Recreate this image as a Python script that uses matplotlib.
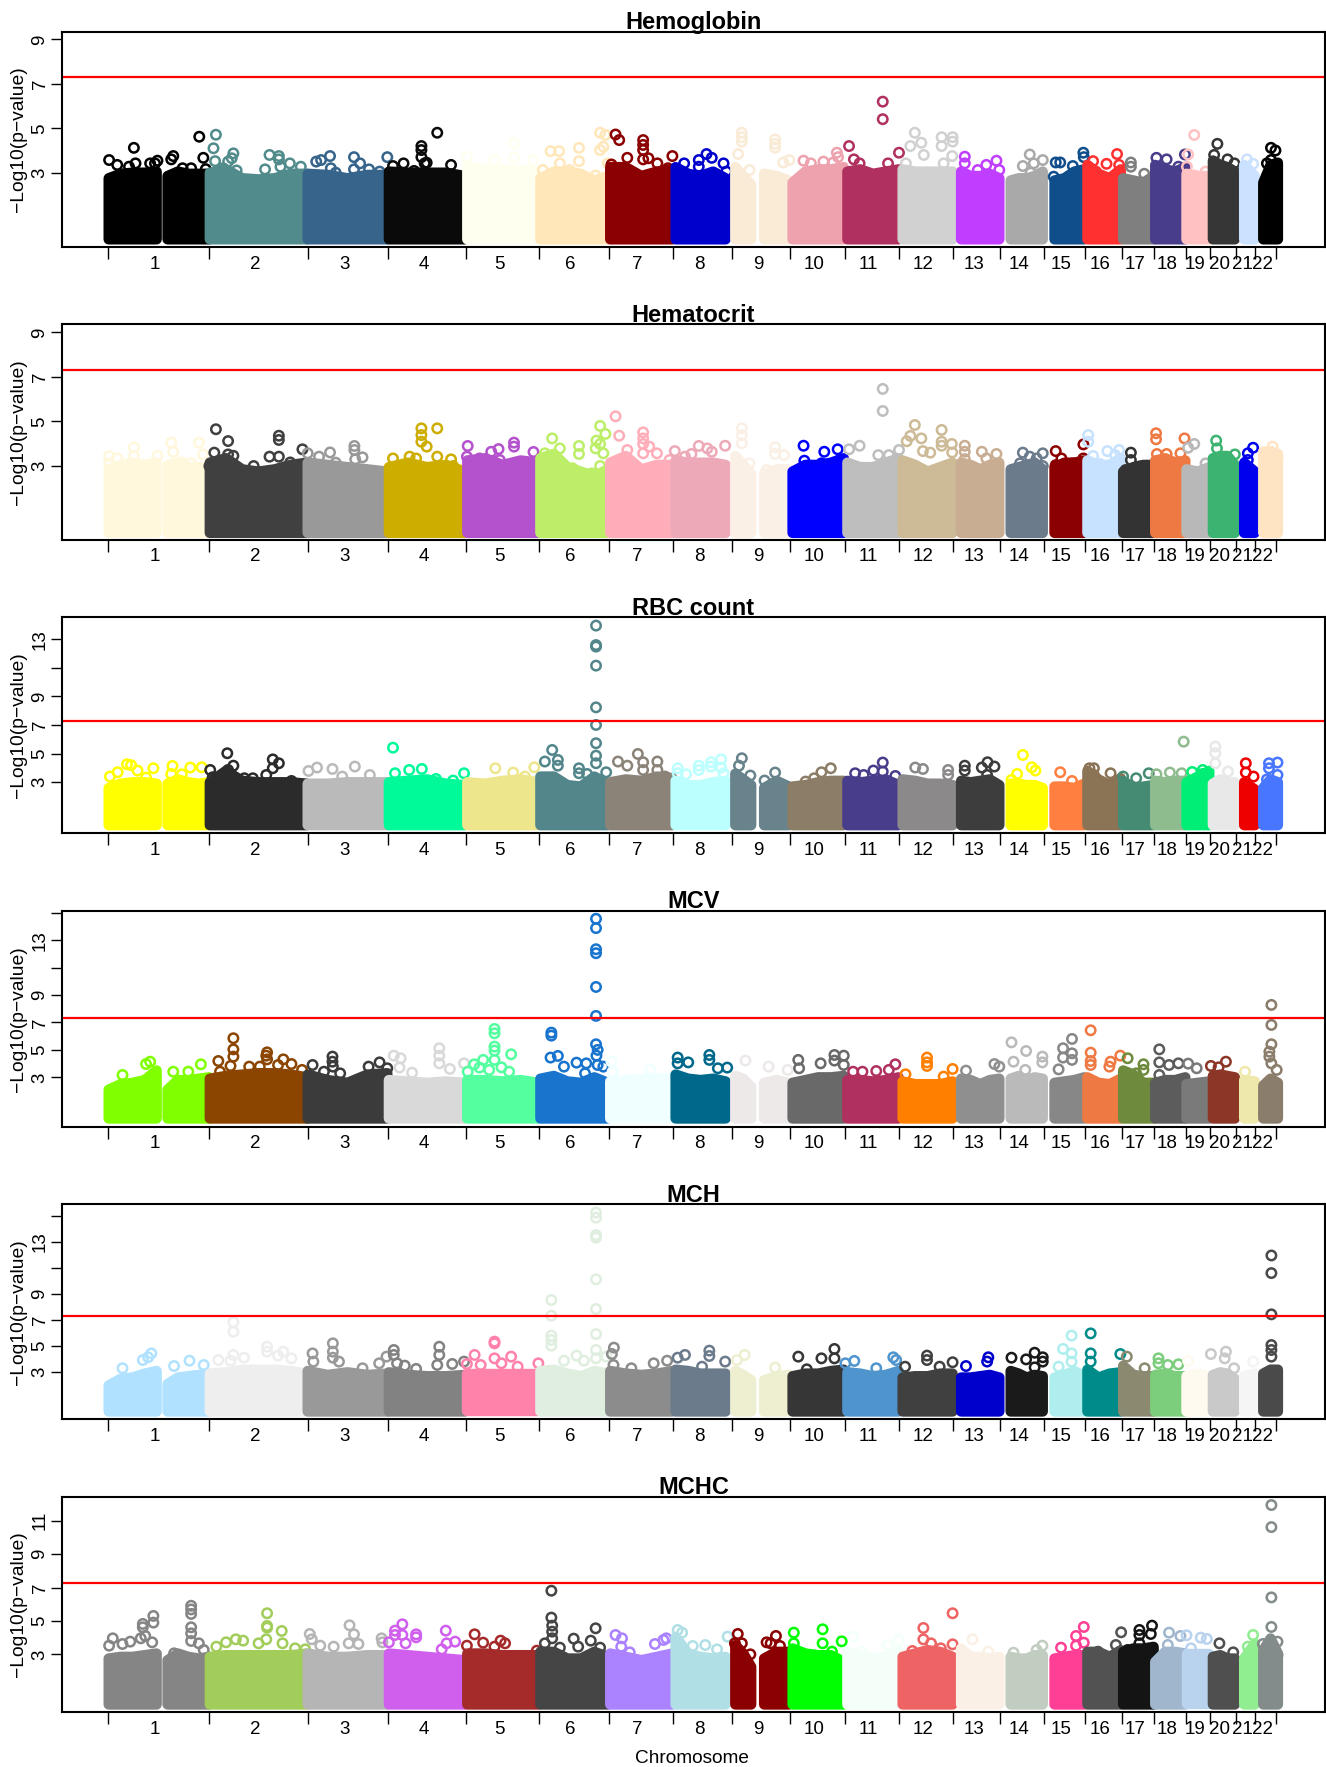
import numpy as np
import matplotlib
matplotlib.use('Agg')
import matplotlib.pyplot as plt

plt.rcParams['font.family'] = ['Liberation Sans', 'DejaVu Sans']

# ---------------------------------------------------------
# GENOME LAYOUT (Mb)
# ---------------------------------------------------------
CHR_LENGTHS = [249, 243, 198, 191, 181, 171, 159, 146, 141, 135, 135,
               133, 115, 107, 102, 90, 81, 78, 59, 63, 48, 51]
CHR_LABELS = [str(i) for i in range(1, 23)]

# chr1 and chr9 have a hole round the centromere, so 24 solid blocks
BLOCK_CHR = [0, 0, 1, 2, 3, 4, 5, 6, 7, 8, 8, 9, 10, 11, 12, 13, 14, 15, 16, 17, 18, 19, 20, 21]
BLOCK_START = [2, 147, 251, 492, 692, 885, 1065, 1237, 1398, 1545, 1616, 1686, 1821, 1957,
               2101, 2223, 2331, 2412, 2500, 2579, 2656, 2721, 2798, 2845]
BLOCK_END = [120, 249, 490, 688, 879, 1060, 1231, 1390, 1521, 1584, 1677, 1812, 1947, 2080,
             2195, 2302, 2404, 2494, 2575, 2653, 2712, 2775, 2824, 2881]

# ---------------------------------------------------------
# HEMOGLOBIN
# ---------------------------------------------------------
HB_COLORS = ['#000000', '#528B8B', '#36648B', '#0A0A0A', '#FFFFF0', '#FFE7BA', '#8B0000', '#0000CD',
             '#FAEBD7', '#EEA2AD', '#B03060', '#D1D1D1', '#BF3EFF', '#A9A9A9', '#104E8B', '#FF3030',
             '#7F7F7F', '#483D8B', '#FFC1C1', '#363636', '#CAE1FF', '#000000']
HB_TOPS = [[2.75, 2.95, 3.0, 3.0, 3.05], [2.85, 3.05, 2.95, 2.95, 2.95], [3.0, 3.15, 2.75, 2.7, 2.75, 2.95, 2.95],
           [2.95, 2.9, 2.75, 2.9, 2.9], [3.05, 3.0, 3.0, 3.0, 2.85], [3.25, 3.15, 3.15, 3.15, 3.05],
           [2.75, 3.05, 3.05, 2.95, 2.65, 2.85], [3.25, 3.25, 2.85, 3.05, 3.15], [3.25, 2.95, 2.85, 3.05, 2.75],
           [3.25, 2.85, 2.45], [2.95, 2.85, 2.65], [2.55, 3.05, 3.15, 3.15, 3.25], [3.05, 3.15, 2.95, 3.05, 3.15],
           [3.15, 3.05, 3.05, 3.05, 3.05], [3.05, 2.85, 2.85, 2.95, 2.75], [2.65, 2.75, 2.75, 2.85, 3.05],
           [2.65, 2.75, 3.05, 3.15], [3.35, 2.95, 2.75, 3.15], [2.75, 2.65, 2.55, 2.85], [3.35, 3.15, 3.05, 3.25],
           [2.95, 2.85, 2.85], [3.55, 3.35, 3.25, 3.05], [3.35, 2.85], [2.55, 3.35, 3.45]]
HB_HITS = [(3, 3.57), (23, 3.35), (64, 4.12), (68, 3.42), (52, 3.27), (104, 3.42), (122, 3.54), (116, 3.42),
           (161, 3.75), (156, 3.6), (184, 3.2), (205, 3.2), (225, 4.62), (235, 3.67), (241, 3.16),
           (266, 4.71), (260, 4.1), (264, 3.52), (309, 3.87), (296, 3.5), (305, 3.65), (284, 3.2), (317, 3.1),
           (398, 3.8), (421, 3.75), (421, 3.6), (387, 3.15), (448, 3.42), (425, 3.27), (475, 3.27),
           (513, 3.5), (525, 3.57), (547, 3.75), (549, 3.2), (561, 3.0), (606, 3.7), (621, 3.42), (606, 3.15),
           (643, 3.15), (669, 3.05), (688, 3.7), (702, 3.3), (728, 3.42), (754, 3.08), (772, 4.2), (772, 4.02),
           (772, 3.7), (780, 3.42), (785, 3.45), (811, 4.8), (845, 3.35), (835, 2.95), (853, 2.8),
           (884, 3.7), (952, 3.57), (1000, 4.32), (1000, 3.7), (1047, 3.57), (1090, 3.97), (1111, 3.97),
           (1113, 3.42), (1160, 4.12), (1160, 3.52), (1071, 3.12), (1137, 3.12), (1212, 4.8), (1225, 4.7),
           (1212, 4.02), (1220, 4.17), (1231, 3.42), (1201, 2.87), (1250, 4.72), (1259, 4.47), (1240, 3.37),
           (1279, 3.67), (1318, 4.47), (1318, 4.25), (1318, 4.02), (1318, 3.6), (1331, 3.65), (1353, 3.42),
           (1390, 3.75), (1379, 3.2), (1419, 3.42), (1455, 3.57), (1474, 3.84), (1487, 3.67), (1516, 3.42),
           (1523, 3.05), (1455, 3.27), (1561, 4.8), (1561, 4.6), (1561, 4.4), (1552, 3.84), (1580, 3.12),
           (1643, 4.5), (1643, 4.3), (1643, 4.13), (1678, 3.57), (1663, 3.46), (1627, 2.87), (1713, 3.54),
           (1731, 3.42), (1762, 3.5), (1795, 3.9), (1798, 3.7), (1786, 3.46), (1825, 4.2), (1837, 3.6),
           (1851, 3.42), (1908, 6.2), (1908, 5.41), (1921, 3.42), (1948, 3.9), (1987, 4.8), (1976, 4.2),
           (2003, 4.35), (2009, 3.8), (2053, 4.6), (2053, 4.2), (2080, 4.6), (2080, 4.4), (2079, 3.75),
           (2058, 3.42), (1965, 3.42), (2110, 3.72), (2110, 3.42), (2163, 3.35), (2188, 3.54), (2142, 3.12),
           (2195, 3.12), (2270, 3.82), (2253, 3.3), (2280, 3.42), (2302, 3.57), (2272, 3.0), (2334, 3.46),
           (2345, 3.46), (2329, 2.82), (2376, 3.3), (2402, 3.9), (2403, 3.7), (2426, 3.52), (2485, 3.84),
           (2459, 3.4), (2490, 3.35), (2433, 3.05), (2519, 3.46), (2519, 3.27), (2552, 2.95), (2582, 3.67),
           (2607, 3.6), (2636, 3.27), (2652, 3.82), (2675, 4.7), (2660, 3.82), (2657, 3.27), (2703, 3.05),
           (2675, 2.87), (2732, 4.3), (2724, 3.8), (2757, 3.6), (2774, 3.42), (2805, 3.6), (2820, 3.4),
           (2864, 4.12), (2875, 4.0), (2854, 3.42), (2879, 3.35), (2864, 3.57)]

# ---------------------------------------------------------
# HEMATOCRIT
# ---------------------------------------------------------
HCT_COLORS = ['#FFF8DC', '#404040', '#999999', '#CDAD00', '#B452CD', '#BCEE68', '#FFAEB9', '#EEA9B8',
              '#FAF0E6', '#0000FF', '#BEBEBE', '#CDBA96', '#C9AD92', '#6C7B8B', '#8B0000', '#C6E2FF',
              '#333333', '#EE7942', '#B8B8B8', '#3CB371', '#0000EE', '#FFE4C4']
HCT_TOPS = [[2.85, 3.05, 3.15, 3.05, 3.15], [3.05, 3.15, 2.95, 2.95, 2.95], [3.15, 3.35, 2.85, 2.75, 2.85, 3.05, 3.15],
            [3.15, 3.05, 2.95, 2.85, 2.75], [2.95, 3.15, 2.95, 3.05, 2.75], [3.25, 3.35, 3.05, 3.25, 3.15],
            [3.35, 3.55, 2.95, 2.75, 2.55, 2.85], [3.15, 3.45, 2.85, 3.05, 3.05], [3.25, 3.15, 3.15, 3.15, 3.05],
            [3.45, 3.05, 2.65], [2.65, 2.85, 2.85], [2.75, 3.05, 3.05, 3.15, 3.35], [3.15, 2.95, 2.95, 3.15, 3.35],
            [3.25, 3.05, 2.75, 2.95, 3.15], [3.15, 3.05, 2.85, 3.05, 3.15], [2.85, 2.95, 3.05, 3.15, 2.85],
            [2.95, 3.15, 3.15, 3.25], [3.25, 3.05, 3.05, 3.35], [2.75, 2.95, 3.05, 3.05], [3.25, 3.35, 3.15, 3.25],
            [2.85, 2.75, 2.95], [3.35, 3.45, 3.45, 3.05], [3.15, 2.75], [3.65, 3.65, 3.55]]
HCT_HITS = [(3, 3.45), (3, 3.12), (23, 3.35), (64, 3.84), (64, 3.45), (122, 3.46), (156, 4.05), (161, 3.64),
            (182, 3.16), (205, 3.12), (224, 4.05), (234, 3.52), (266, 4.65), (296, 4.12), (262, 3.6),
            (296, 3.52), (309, 3.46), (250, 3.0), (359, 3.0), (398, 3.42), (421, 4.36), (421, 4.17), (421, 3.42),
            (449, 3.16), (479, 3.75), (492, 3.57), (520, 3.42), (547, 3.61), (561, 3.15), (607, 3.9), (607, 3.72),
            (627, 3.39), (609, 3.3), (702, 3.34), (743, 3.42), (759, 3.34), (772, 4.69), (772, 4.39), (772, 4.09),
            (785, 3.87), (811, 4.69), (811, 3.42), (845, 3.3), (850, 3.0), (886, 3.9), (884, 3.42), (915, 3.34),
            (944, 3.64), (962, 3.76), (965, 3.27), (1000, 4.05), (1000, 3.87), (1048, 3.63), (1027, 3.12),
            (1076, 3.57), (1094, 4.24), (1113, 3.79), (1160, 3.9), (1160, 3.54), (1144, 2.9), (1191, 2.67),
            (1212, 4.8), (1225, 4.44), (1203, 4.14), (1212, 3.99), (1201, 3.79), (1220, 3.57), (1212, 3.0),
            (1250, 5.23), (1259, 4.36), (1279, 3.72), (1318, 4.51), (1318, 4.24), (1318, 3.99), (1333, 3.87),
            (1318, 3.57), (1352, 3.57), (1396, 3.67), (1383, 3.27), (1421, 3.42), (1455, 3.9), (1476, 3.79),
            (1487, 3.64), (1520, 3.91), (1437, 3.54), (1561, 4.69), (1561, 4.39), (1561, 4.02), (1580, 3.12),
            (1643, 3.84), (1643, 3.54), (1665, 3.49), (1622, 2.82), (1713, 3.91), (1715, 3.24), (1764, 3.64),
            (1797, 3.75), (1757, 3.12), (1802, 3.27), (1825, 3.75), (1851, 3.91), (1897, 3.49), (1908, 6.46),
            (1908, 5.47), (1923, 3.49), (1948, 3.72), (1987, 4.84), (1976, 4.35), (2003, 4.24), (1967, 4.11),
            (2053, 4.62), (2053, 4.09), (2053, 3.91), (2078, 3.99), (2025, 3.6), (2007, 3.67), (2079, 3.61),
            (2110, 3.91), (2110, 3.64), (2110, 3.31), (2152, 3.64), (2188, 3.54), (2163, 3.34), (2253, 3.6),
            (2270, 3.42), (2287, 3.34), (2302, 3.57), (2302, 3.0), (2246, 3.12), (2334, 3.67), (2348, 3.34),
            (2334, 3.04), (2376, 3.12), (2402, 3.97), (2402, 3.34), (2414, 4.39), (2414, 4.09), (2426, 3.45),
            (2461, 3.67), (2490, 3.72), (2480, 3.49), (2443, 3.09), (2519, 3.6), (2519, 3.27), (2506, 2.82),
            (2542, 2.97), (2581, 4.47), (2581, 4.2), (2583, 3.54), (2607, 3.54), (2651, 4.24), (2641, 3.57),
            (2675, 3.99), (2660, 3.82), (2703, 3.12), (2675, 2.72), (2729, 4.14), (2731, 3.79), (2775, 3.52),
            (2820, 3.82), (2807, 3.57), (2807, 3.27), (2868, 3.87), (2864, 3.64), (2880, 3.42)]

# ---------------------------------------------------------
# RBC COUNT
# ---------------------------------------------------------
RBC_COLORS = ['#FFFF00', '#2B2B2B', '#BABABA', '#00FA9A', '#EEE68C', '#53868B', '#8B8378', '#BBFFFF',
              '#68838B', '#8B7D66', '#483D8B', '#8B8989', '#3D3D3D', '#FFFF00', '#FF7F40', '#8B7355',
              '#458B74', '#8FBC8F', '#00EE76', '#E8E8E8', '#EE0000', '#4876FF']
RBC_TOPS = [[2.6, 2.9, 3.0, 3.0, 2.9], [2.9, 3.2, 3.0, 2.9, 3.0], [3.0, 3.8, 3.1, 3.0, 3.0, 3.0, 2.9],
            [2.9, 2.9, 3.0, 3.0, 3.0], [3.0, 3.1, 3.2, 2.9, 2.8], [3.0, 2.9, 3.1, 3.2, 3.0],
            [3.4, 3.4, 2.8, 2.7, 3.4, 2.9], [3.0, 3.2, 3.1, 3.4, 3.3], [3.1, 2.8, 2.8, 3.0, 3.1],
            [3.6, 3.2, 2.8], [2.6, 3.1, 2.7], [2.7, 2.8, 3.0, 3.1, 3.1], [3.1, 3.0, 3.1, 3.2, 2.8],
            [3.2, 3.1, 2.9, 2.9, 2.8], [3.1, 3.0, 3.1, 3.2, 2.8], [2.9, 2.9, 2.8, 2.8, 2.6],
            [2.7, 2.7, 2.6, 2.9], [3.8, 3.2, 2.8, 3.3], [3.1, 2.6, 2.7, 2.8], [3.1, 3.0, 3.1, 3.1],
            [3.0, 3.4, 3.8], [2.9, 3.2, 3.0, 3.0], [3.0, 2.5], [2.6, 3.2, 3.0]]
RBC_HITS = [(5, 3.4), (24, 3.7), (47, 4.26), (57, 4.2), (73, 3.82), (94, 3.33), (112, 3.98), (159, 4.14),
            (156, 3.58), (182, 3.56), (203, 4.03), (231, 4.05), (252, 3.86), (258, 3.35), (294, 5.03), (309, 4.16),
            (296, 3.86), (336, 3.28), (357, 3.28), (406, 4.6), (421, 4.33), (406, 3.98), (390, 3.51), (452, 3.09),
            (494, 3.79), (515, 4.03), (553, 3.93), (608, 4.1), (645, 3.51), (577, 3.4), (702, 5.42), (707, 3.63),
            (742, 3.86), (773, 3.93), (808, 3.23), (877, 3.63), (850, 3.12), (954, 3.98), (998, 3.68), (1050, 4.05),
            (1027, 3.4), (1094, 5.26), (1076, 4.45), (1108, 4.56), (1108, 4.16), (1160, 3.98), (1160, 3.63),
            (1202, 13.96), (1202, 12.6), (1202, 12.49), (1202, 11.16), (1202, 8.24), (1202, 7.01), (1202, 5.73),
            (1202, 4.86), (1202, 4.33), (1227, 3.7), (1180, 3.58), (1256, 4.45), (1279, 4.16), (1305, 4.98),
            (1318, 4.4), (1353, 4.45), (1318, 3.86), (1353, 3.86), (1372, 3.4), (1403, 3.98), (1403, 3.63),
            (1424, 3.56), (1455, 4.16), (1455, 3.86), (1485, 4.4), (1485, 4.1), (1510, 4.6), (1510, 4.03),
            (1516, 3.63), (1561, 4.68), (1554, 4.16), (1582, 3.47), (1643, 3.68), (1617, 3.12), (1718, 3.05),
            (1739, 3.28), (1757, 3.7), (1780, 3.98), (1840, 3.63), (1861, 3.51), (1908, 4.38), (1908, 3.75),
            (1885, 3.82), (1939, 3.44), (1988, 4.03), (2007, 3.93), (2069, 3.86), (2069, 3.51), (2110, 4.16),
            (2110, 3.82), (2166, 4.4), (2152, 4.03), (2183, 4.1), (2165, 3.51), (2253, 4.91), (2275, 4.05),
            (2284, 3.82), (2239, 3.58), (2225, 3.16), (2345, 3.7), (2374, 3.09), (2417, 3.98), (2428, 3.98),
            (2428, 3.51), (2469, 3.63), (2500, 3.4), (2532, 3.28), (2563, 3.63), (2582, 3.56), (2615, 3.68),
            (2649, 5.84), (2644, 3.63), (2670, 3.72), (2696, 3.86), (2696, 3.58), (2727, 5.49), (2727, 5.03),
            (2727, 4.33), (2758, 3.75), (2802, 4.33), (2802, 3.68), (2821, 3.4), (2859, 4.33), (2880, 4.38),
            (2880, 3.51), (2854, 3.2), (2859, 3.98)]

# ---------------------------------------------------------
# MCV
# ---------------------------------------------------------
MCV_COLORS = ['#7FFF00', '#8B4500', '#3B3B3B', '#D9D9D9', '#54FF9F', '#1874CD', '#F0FFFF', '#00688B',
              '#EEE9E9', '#696969', '#B03060', '#FF7F00', '#8F8F8F', '#BABABA', '#878787', '#EE7942',
              '#6E8B3D', '#5C5C5C', '#7A7A7A', '#8B3626', '#EEE8AA', '#8B7D6B']
MCV_TOPS = [[2.1, 2.5, 2.6, 2.8, 3.5], [2.1, 2.8, 2.8, 2.9, 3.0], [2.9, 3.1, 3.2, 3.3, 3.3, 3.2, 3.0],
            [3.2, 2.8, 2.6, 3.2, 3.3], [2.8, 2.7, 2.6, 2.7, 2.6], [2.8, 2.8, 2.7, 2.8, 2.6],
            [2.9, 3.1, 2.7, 2.6, 3.0, 2.6], [2.7, 2.8, 2.9, 2.9, 3.0], [3.2, 2.9, 2.8, 2.9, 2.7],
            [3.1, 2.9, 2.3], [2.6, 2.8, 2.6], [2.6, 2.8, 3.0, 3.0, 3.1], [2.8, 2.8, 2.7, 2.8, 3.0],
            [2.7, 2.5, 2.5, 2.5, 2.7], [2.9, 2.8, 2.5, 2.8, 2.9], [2.9, 3.1, 2.8, 3.0, 2.9],
            [2.6, 2.7, 2.8, 3.0], [3.0, 2.6, 2.5, 2.9], [3.5, 3.2, 2.6, 2.6], [2.6, 2.8, 2.8, 3.0],
            [2.5, 2.6, 2.7], [3.1, 3.2, 3.1, 3.0], [2.8, 2.7], [2.4, 2.9, 2.6]]
MCV_HITS = [(36, 3.17), (94, 3.97), (104, 4.14), (161, 3.41), (229, 3.95), (198, 3.41), (272, 4.19), (276, 3.41),
            (309, 5.85), (309, 5.04), (309, 4.51), (302, 3.83), (348, 3.78), (392, 4.82), (390, 4.58), (392, 4.31),
            (374, 3.78), (432, 4.31), (419, 3.9), (452, 3.97), (478, 3.54), (504, 3.9), (532, 3.41), (553, 4.51),
            (553, 4.14), (554, 3.78), (572, 3.29), (642, 3.78), (669, 4.09), (688, 3.66), (704, 4.58), (721, 4.39),
            (718, 3.71), (749, 3.34), (816, 5.12), (816, 4.58), (816, 4.02), (842, 3.61), (877, 4.02), (886, 3.41),
            (902, 3.95), (915, 3.71), (924, 4.27), (952, 6.53), (952, 6.21), (952, 5.24), (952, 4.95), (952, 4.27),
            (993, 4.68), (969, 3.73), (939, 3.54), (988, 3.41), (1092, 6.26), (1092, 6.04), (1090, 4.44),
            (1108, 4.56), (1123, 3.78), (1154, 4.07), (1178, 4.02), (1175, 3.29), (1202, 14.56), (1202, 13.88),
            (1202, 12.34), (1202, 12.05), (1202, 9.59), (1202, 7.48), (1202, 5.41), (1206, 5.0), (1203, 4.58),
            (1206, 3.9), (1220, 3.78), (1240, 4.14), (1243, 3.41), (1336, 3.54), (1403, 4.44), (1429, 4.09),
            (1403, 4.02), (1481, 4.63), (1481, 4.27), (1502, 3.66), (1525, 3.71), (1570, 4.22), (1627, 3.78),
            (1674, 3.54), (1700, 4.27), (1702, 3.66), (1755, 4.02), (1789, 4.63), (1789, 4.22), (1812, 4.58),
            (1812, 3.9), (1835, 3.41), (1858, 3.41), (1892, 3.46), (1939, 3.95), (1923, 3.54), (1964, 3.22),
            (2017, 4.44), (2017, 4.09), (2017, 3.83), (2080, 3.61), (2058, 3.05), (2113, 3.49), (2183, 3.97),
            (2195, 3.78), (2225, 5.55), (2261, 4.92), (2230, 4.14), (2259, 3.54), (2301, 4.51), (2301, 4.09),
            (2352, 5.12), (2352, 4.44), (2374, 5.8), (2374, 4.75), (2374, 4.27), (2341, 3.58), (2420, 6.43),
            (2420, 4.8), (2420, 4.19), (2420, 3.9), (2469, 4.14), (2466, 3.78), (2493, 4.58), (2511, 4.39),
            (2550, 3.95), (2550, 3.54), (2532, 3.29), (2589, 5.04), (2589, 4.09), (2589, 3.17), (2613, 3.9),
            (2636, 4.02), (2660, 4.0), (2681, 3.66), (2716, 3.83), (2753, 4.14), (2735, 3.73), (2800, 3.41),
            (2865, 8.28), (2865, 6.82), (2865, 5.41), (2860, 4.87), (2860, 4.51), (2865, 4.02), (2878, 3.54)]

# ---------------------------------------------------------
# MCH
# ---------------------------------------------------------
MCH_COLORS = ['#B0E2FF', '#EEEEEE', '#999999', '#828282', '#FF82AB', '#E0EEE0', '#8C8C8C', '#6C7B8B',
              '#EEEED1', '#363636', '#4F94CD', '#404040', '#0000CD', '#1A1A1A', '#AEEEEE', '#008B8B',
              '#8B8970', '#7CCD7C', '#FFFAF0', '#C9C9C9', '#F5F5F5', '#4A4A4A']
MCH_TOPS = [[2.0, 2.5, 2.6, 2.9, 3.1], [2.1, 2.6, 2.7, 2.8, 2.9], [2.9, 3.0, 3.2, 3.2, 3.2, 3.1, 2.9],
            [3.1, 2.8, 3.0, 2.8, 2.9], [3.0, 2.8, 2.7, 2.7, 2.8], [2.9, 2.9, 2.9, 2.9, 2.9],
            [3.1, 3.2, 2.9, 2.7, 3.1, 2.9], [3.1, 2.9, 2.8, 2.9, 3.1], [3.2, 3.1, 2.9, 2.9, 2.9],
            [3.1, 2.8, 2.4], [2.4, 2.7, 2.8], [2.7, 2.9, 2.9, 3.1, 3.2], [3.0, 2.9, 2.7, 2.8, 3.1],
            [2.6, 2.7, 2.7, 2.9, 2.9], [2.6, 2.6, 2.7, 2.8, 2.6], [3.1, 2.9, 2.6, 2.8, 2.7],
            [2.6, 2.8, 3.1, 2.7], [3.2, 2.6, 2.9, 3.0], [3.5, 2.8, 2.7, 2.7], [2.8, 2.9, 2.7, 2.7],
            [2.7, 2.9, 2.7], [2.8, 3.0, 2.9, 2.5], [2.7, 2.9], [2.9, 3.2, 3.2]]
MCH_HITS = [(36, 3.31), (86, 3.94), (99, 4.15), (107, 4.45), (163, 3.48), (201, 3.89), (236, 3.56), (272, 3.94),
            (309, 6.83), (309, 6.11), (309, 4.33), (302, 3.89), (335, 4.12), (392, 4.96), (392, 4.58), (432, 4.58),
            (419, 4.28), (452, 4.07), (504, 4.45), (506, 3.82), (554, 5.22), (554, 4.58), (554, 4.12), (569, 3.82),
            (627, 3.31), (668, 3.69), (686, 4.2), (704, 4.71), (704, 4.33), (712, 3.69), (731, 3.51), (759, 3.26),
            (816, 4.96), (816, 4.33), (811, 3.56), (848, 3.64), (877, 3.82), (884, 3.64), (903, 4.33), (918, 3.56),
            (952, 5.35), (952, 5.22), (952, 4.07), (993, 4.2), (969, 3.69), (1009, 3.43), (1060, 3.69),
            (1092, 8.54), (1092, 7.34), (1092, 5.81), (1092, 5.47), (1092, 5.04), (1123, 3.89), (1154, 4.28),
            (1172, 3.89), (1202, 15.24), (1202, 14.84), (1202, 13.51), (1202, 13.31), (1202, 10.12), (1202, 7.85),
            (1202, 5.93), (1202, 4.71), (1202, 4.07), (1227, 4.2), (1246, 4.89), (1241, 4.4), (1245, 3.56),
            (1289, 3.31), (1344, 3.69), (1377, 3.89), (1403, 4.12), (1421, 4.33), (1481, 4.66), (1481, 4.25),
            (1463, 3.43), (1520, 3.82), (1568, 4.33), (1549, 3.94), (1643, 3.36), (1700, 4.2), (1721, 3.23),
            (1757, 4.07), (1789, 4.79), (1789, 4.07), (1816, 3.69), (1838, 3.87), (1934, 4.15), (1941, 3.94),
            (1892, 3.31), (1963, 3.43), (2017, 4.28), (2017, 3.94), (2048, 3.43), (2080, 3.77), (2113, 3.48),
            (2168, 4.15), (2165, 3.82), (2225, 4.12), (2261, 3.99), (2282, 4.5), (2302, 4.15), (2302, 3.82),
            (2282, 3.38), (2373, 5.81), (2352, 4.79), (2373, 4.45), (2373, 3.82), (2341, 3.43), (2420, 5.98),
            (2420, 4.45), (2420, 3.82), (2493, 4.4), (2509, 4.2), (2553, 3.31), (2587, 4.07), (2587, 3.69),
            (2610, 3.56), (2636, 3.61), (2660, 3.87), (2716, 4.4), (2753, 4.58), (2750, 4.07), (2773, 3.31),
            (2820, 3.82), (2865, 11.95), (2865, 10.6), (2865, 7.44), (2865, 5.09), (2865, 4.71), (2865, 4.2)]

# ---------------------------------------------------------
# MCHC
# ---------------------------------------------------------
MCHC_COLORS = ['#858585', '#A2CD5A', '#B5B5B5', '#D15FEE', '#A52A2A', '#454545', '#AB82FF', '#B0E0E6',
               '#8B0000', '#00FF00', '#F5FFFA', '#EE6363', '#FAF0E6', '#C1CDC1', '#FF3E96', '#525252',
               '#141414', '#9FB6CD', '#B9D3EE', '#4F4F4F', '#90EE90', '#838B8B']
MCHC_TOPS = [[2.75, 2.85, 2.85, 2.95, 3.05], [2.65, 3.05, 2.85, 2.75, 2.85], [2.85, 2.95, 2.95, 2.95, 2.95, 2.95, 3.05],
             [3.05, 2.85, 2.85, 2.95, 2.95], [3.05, 2.95, 2.85, 2.75, 2.65], [3.05, 3.05, 2.95, 2.95, 2.95],
             [3.15, 3.15, 2.75, 2.75, 3.15, 2.85], [3.05, 2.85, 2.65, 2.85, 3.05], [4.05, 3.05, 2.85, 2.75, 2.85],
             [3.55, 3.05, 2.25], [2.75, 3.15, 3.15], [3.35, 3.05, 2.95, 2.95, 2.55], [3.15, 2.95, 2.75, 2.85, 3.25],
             [2.85, 3.05, 3.25, 3.15, 2.85], [3.35, 2.85, 2.85, 2.75, 2.85], [2.85, 2.75, 2.75, 2.95, 2.95],
             [2.75, 2.85, 2.95, 2.95], [3.15, 3.15, 2.85, 3.25], [3.15, 3.35, 3.35, 3.45], [2.55, 3.15, 3.15, 3.05],
             [3.05, 3.05, 3.05], [2.85, 2.95, 2.75, 2.75], [2.75, 3.65], [3.25, 3.95, 3.05]]
MCHC_HITS = [(3, 3.52), (12, 3.96), (36, 3.62), (55, 3.76), (86, 4.82), (86, 4.62), (81, 3.96), (92, 4.1),
             (112, 5.3), (112, 4.9), (109, 3.72), (163, 3.06), (205, 5.91), (205, 5.69), (205, 5.42), (205, 4.62),
             (205, 4.26), (205, 3.8), (224, 3.66), (236, 3.26), (267, 3.46), (291, 3.72), (315, 3.9), (333, 3.82),
             (392, 5.46), (392, 4.7), (392, 4.6), (390, 3.9), (428, 4.4), (430, 3.66), (371, 3.66), (461, 3.36),
             (486, 3.3), (497, 4.22), (502, 3.9), (523, 3.52), (556, 3.46), (595, 4.74), (606, 4.2), (593, 3.66),
             (617, 3.62), (674, 3.96), (676, 3.72), (692, 3.72), (725, 4.8), (707, 4.42), (707, 4.16), (725, 4.16),
             (759, 4.2), (759, 4.02), (733, 3.66), (832, 4.42), (834, 3.66), (822, 3.3), (855, 3.76), (884, 3.52),
             (903, 4.2), (924, 3.7), (967, 3.82), (978, 3.66), (952, 3.46), (1056, 3.22), (1092, 6.81), (1092, 5.2),
             (1094, 4.72), (1094, 4.36), (1094, 3.96), (1076, 3.66), (1113, 3.4), (1147, 3.94), (1158, 3.46),
             (1201, 4.56), (1189, 3.82), (1212, 3.4), (1250, 4.16), (1266, 3.96), (1264, 3.46), (1285, 3.12),
             (1347, 3.62), (1368, 3.86), (1375, 3.96), (1403, 4.46), (1414, 4.3), (1440, 3.5), (1471, 3.56),
             (1500, 3.3), (1526, 4.06), (1551, 4.22), (1561, 3.66), (1544, 3.66), (1582, 3.0), (1622, 3.72),
             (1645, 4.1), (1655, 3.5), (1632, 3.66), (1689, 4.3), (1689, 3.66), (1760, 4.5), (1760, 3.66),
             (1807, 3.78), (1783, 3.16), (1721, 2.96), (1835, 4.06), (1856, 3.16), (1921, 3.56), (1947, 3.86),
             (2080, 5.46), (2008, 4.58), (2008, 3.9), (2080, 3.6), (2027, 3.66), (2051, 3.36), (1981, 3.2),
             (2129, 3.9), (2168, 3.16), (2230, 3.1), (2287, 3.26), (2301, 3.52), (2347, 3.4), (2384, 4.1),
             (2403, 4.64), (2384, 3.52), (2403, 3.7), (2438, 3.16), (2495, 4.32), (2482, 3.56), (2540, 4.46),
             (2540, 4.16), (2540, 3.66), (2571, 4.72), (2568, 4.22), (2511, 3.26), (2613, 4.3), (2610, 3.56),
             (2641, 4.1), (2656, 4.14), (2691, 4.0), (2706, 3.92), (2667, 3.36), (2737, 3.66), (2771, 3.12),
             (2820, 4.16), (2807, 3.46), (2865, 11.94), (2865, 10.62), (2865, 6.41), (2865, 4.64), (2880, 3.76),
             (2844, 3.62), (2880, 2.96)]

# title, colours, block tops, hits, y limits, y ticks, y tick labels, axes top/bottom in pixels
PANELS = [
    ('Hemoglobin', HB_COLORS, HB_TOPS, HB_HITS, (-0.36, 9.35), [3, 5, 7, 9], ['3', '5', '7', '9'], 31.7, 247.3),
    ('Hematocrit', HCT_COLORS, HCT_TOPS, HCT_HITS, (-0.32, 9.36), [3, 5, 7, 9], ['3', '5', '7', '9'], 324.3, 540),
    ('RBC count', RBC_COLORS, RBC_TOPS, RBC_HITS, (-0.57, 14.54), [3, 5, 7, 9, 11, 13],
     ['3', '5', '7', '9', '', '13'], 617.3, 833.3),
    ('MCV', MCV_COLORS, MCV_TOPS, MCV_HITS, (-0.6, 15.15), [3, 5, 7, 9, 11, 13, 15],
     ['3', '5', '7', '9', '', '13', ''], 910.7, 1126.7),
    ('MCH', MCH_COLORS, MCH_TOPS, MCH_HITS, (-0.6, 15.87), [3, 5, 7, 9, 11, 13, 15],
     ['3', '5', '7', '9', '', '13', ''], 1204.3, 1419.3),
    ('MCHC', MCHC_COLORS, MCHC_TOPS, MCHC_HITS, (-0.47, 12.44), [3, 5, 7, 9, 11],
     ['3', '5', '7', '9', '11'], 1496.7, 1712.3),
]

W, H = 1326, 1767
AX_LEFT, AX_RIGHT = 62, 1325
GWAS_LINE = 7.3
LABEL_SHIFT = 8  # chromosome numbers sit a little left of the middle


def draw_panel(ax, colors, tops, hits):
    bounds = np.concatenate([[0], np.cumsum(CHR_LENGTHS)])
    hit_x, hit_y = np.array(hits, dtype=float).T
    hit_chr = np.clip(np.searchsorted(bounds, hit_x, side='right') - 1, 0, 21)

    # later chromosomes sit on top of earlier ones, same as the plotting order
    for chrom in range(22):
        col = colors[chrom]
        z = 2 + chrom * 0.1
        for b, c in enumerate(BLOCK_CHR):
            if c != chrom:
                continue
            xs = np.linspace(BLOCK_START[b], BLOCK_END[b], len(tops[b]))
            px = np.concatenate([[BLOCK_START[b]], xs, [BLOCK_END[b]]])
            py = np.concatenate([[0], tops[b], [0]])
            ax.fill(px, py, facecolor=col, edgecolor=col, linewidth=7.5, joinstyle='round', zorder=z)
        mask = hit_chr == chrom
        ax.scatter(hit_x[mask], hit_y[mask], s=46, facecolors='none', edgecolors=col,
                   linewidths=1.8, zorder=z + 0.05)

    ax.axhline(GWAS_LINE, color='#FF0000', lw=1.6, zorder=50)


fig = plt.figure(figsize=(W / 100, H / 100), dpi=100)
bounds = np.concatenate([[0], np.cumsum(CHR_LENGTHS)])
mids = (bounds[:-1] + bounds[1:]) / 2 - LABEL_SHIFT

for title, colors, tops, hits, ylim, yticks, ylabels, top_px, bot_px in PANELS:
    ax = fig.add_axes([AX_LEFT / W, 1 - bot_px / H, (AX_RIGHT - AX_LEFT) / W, (bot_px - top_px) / H])
    draw_panel(ax, colors, tops, hits)

    ax.set_xlim(-113, 2997)
    ax.set_ylim(*ylim)

    ax.set_xticks(bounds)
    ax.set_xticklabels([])
    ax.tick_params(axis='x', which='major', length=8.5, width=1, direction='out')
    ax.set_xticks(mids, minor=True)
    ax.set_xticklabels(CHR_LABELS, minor=True, fontsize=13.5)
    ax.tick_params(axis='x', which='minor', length=0, pad=6)

    ax.set_yticks(yticks)
    ax.set_yticklabels(ylabels, rotation=90, va='center', fontsize=13.5)
    ax.tick_params(axis='y', length=8.2, width=1, direction='out', pad=1.5)

    for s in ax.spines.values():
        s.set_linewidth(1.5)
        s.set_zorder(60)

    # set_title keeps pushing itself clear of the axes, so place it by hand
    ax.annotate(title, xy=(0.5, 1), xycoords='axes fraction', xytext=(0, 1.8), textcoords='offset points',
                ha='center', va='baseline', fontsize=17, fontweight='bold')
    fig.text(19 / W, 1 - (top_px + bot_px) / 2 / H, '\u2212Log10(p\u2212value)', rotation=90,
             ha='center', va='center', fontsize=13.9)

fig.text(692 / W, 1 - 1758 / H, 'Chromosome', ha='center', va='center', fontsize=13.7)

fig.savefig('out.png', dpi=100)
